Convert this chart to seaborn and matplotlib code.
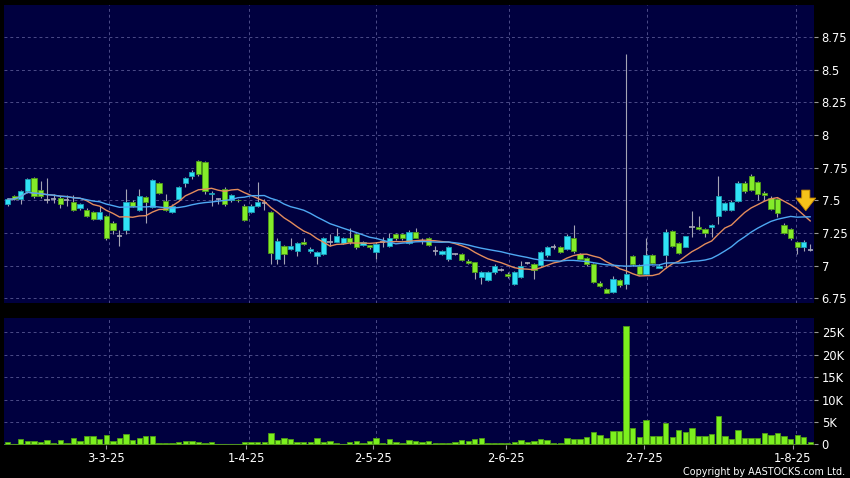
import numpy as np
import pandas as pd
import matplotlib
matplotlib.use("Agg")
import matplotlib.pyplot as plt
import seaborn as sns
from matplotlib.ticker import FixedLocator, FuncFormatter

# ---------------- data ----------------
opens = [7.47, 7.53, 7.51, 7.57, 7.67, 7.58, 7.50, 7.51, 7.52, 7.50,
         7.49, 7.44, 7.43, 7.41, 7.36, 7.38, 7.33, 7.23, 7.27, 7.49,
         7.43, 7.525, 7.45, 7.635, 7.495, 7.41, 7.51, 7.63, 7.69, 7.80,
         7.79, 7.55, 7.51, 7.59, 7.50, 7.505, 7.46, 7.41, 7.46, 7.48,
         7.41, 7.055, 7.15, 7.125, 7.11, 7.185, 7.11, 7.075, 7.09, 7.18,
         7.185, 7.175, 7.21, 7.245, 7.16, 7.155, 7.105, 7.18, 7.15, 7.245,
         7.245, 7.175, 7.26, 7.19, 7.21, 7.11, 7.09, 7.05, 7.09, 7.09,
         7.04, 7.025, 6.915, 6.89, 6.95, 6.97, 6.94, 6.86, 6.915, 7.02,
         7.01, 7.005, 7.08, 7.14, 7.145, 7.13, 7.21, 7.09, 7.06, 7.01,
         6.87, 6.825, 6.80, 6.89, 6.86, 7.075, 7.0, 6.94, 7.08, 6.985,
         7.08, 7.265, 7.175, 7.145, 7.30, 7.30, 7.285, 7.30, 7.38, 7.43,
         7.43, 7.495, 7.635, 7.69, 7.64, 7.56, 7.52, 7.51, 7.315, 7.28,
         7.185, 7.145, 7.12]
closes = [7.51, 7.51, 7.57, 7.66, 7.53, 7.53, 7.50, 7.51, 7.47, 7.50,
          7.43, 7.47, 7.38, 7.36, 7.41, 7.21, 7.27, 7.23, 7.49, 7.46,
          7.53, 7.49, 7.655, 7.56, 7.43, 7.46, 7.60, 7.67, 7.72, 7.70,
          7.57, 7.56, 7.51, 7.47, 7.54, 7.50, 7.35, 7.46, 7.49, 7.48,
          7.10, 7.19, 7.09, 7.15, 7.175, 7.17, 7.13, 7.105, 7.215, 7.18,
          7.23, 7.21, 7.18, 7.14, 7.18, 7.14, 7.17, 7.18, 7.21, 7.21,
          7.21, 7.26, 7.215, 7.19, 7.155, 7.11, 7.11, 7.145, 7.09, 7.045,
          7.02, 6.95, 6.955, 6.95, 7.0, 6.97, 6.92, 6.955, 7.0, 7.02,
          6.97, 7.105, 7.14, 7.14, 7.105, 7.23, 7.11, 7.055, 7.01, 6.875,
          6.845, 6.795, 6.90, 6.85, 6.94, 7.01, 6.935, 7.08, 7.02, 7.0,
          7.26, 7.15, 7.10, 7.225, 7.30, 7.28, 7.25, 7.31, 7.53, 7.48,
          7.49, 7.635, 7.57, 7.58, 7.55, 7.54, 7.435, 7.405, 7.25, 7.21,
          7.145, 7.185, 7.12]
highs = [7.52, 7.54, 7.58, 7.67, 7.68, 7.65, 7.67, 7.55, 7.53, 7.54,
         7.54, 7.48, 7.44, 7.42, 7.46, 7.39, 7.34, 7.27, 7.59, 7.50,
         7.59, 7.53, 7.66, 7.64, 7.55, 7.47, 7.61, 7.68, 7.73, 7.81,
         7.80, 7.57, 7.52, 7.60, 7.55, 7.51, 7.47, 7.47, 7.64, 7.51,
         7.42, 7.21, 7.16, 7.21, 7.18, 7.21, 7.14, 7.11, 7.22, 7.24,
         7.29, 7.22, 7.29, 7.25, 7.19, 7.16, 7.18, 7.22, 7.25, 7.25,
         7.25, 7.27, 7.29, 7.21, 7.22, 7.15, 7.12, 7.15, 7.10, 7.10,
         7.05, 7.03, 6.96, 6.96, 7.01, 6.98, 6.95, 6.96, 7.04, 7.03,
         7.02, 7.11, 7.15, 7.17, 7.15, 7.24, 7.31, 7.10, 7.07, 7.02,
         6.88, 6.83, 6.92, 6.90, 8.62, 7.08, 7.01, 7.21, 7.09, 7.01,
         7.28, 7.27, 7.18, 7.23, 7.42, 7.38, 7.29, 7.32, 7.69, 7.49,
         7.50, 7.65, 7.65, 7.70, 7.65, 7.57, 7.53, 7.52, 7.33, 7.29,
         7.19, 7.20, 7.17]
lows = [7.46, 7.50, 7.47, 7.56, 7.52, 7.52, 7.48, 7.48, 7.44, 7.46,
        7.42, 7.43, 7.37, 7.35, 7.35, 7.20, 7.24, 7.15, 7.24, 7.45,
        7.42, 7.33, 7.44, 7.55, 7.42, 7.40, 7.50, 7.60, 7.66, 7.69,
        7.55, 7.46, 7.47, 7.46, 7.49, 7.49, 7.34, 7.40, 7.45, 7.43,
        7.01, 7.01, 7.01, 7.12, 7.075, 7.16, 7.10, 7.01, 7.08, 7.15,
        7.18, 7.17, 7.17, 7.13, 7.15, 7.13, 7.05, 7.14, 7.14, 7.20,
        7.20, 7.17, 7.21, 7.17, 7.15, 7.08, 7.08, 7.04, 7.08, 7.04,
        7.01, 6.90, 6.86, 6.88, 6.94, 6.96, 6.91, 6.85, 6.91, 7.01,
        6.90, 7.0, 7.07, 7.13, 7.10, 7.12, 7.10, 7.05, 7.00, 6.87,
        6.84, 6.79, 6.79, 6.84, 6.82, 7.0, 6.93, 6.93, 7.01, 6.98,
        6.98, 7.14, 7.09, 7.14, 7.22, 7.27, 7.22, 7.22, 7.32, 7.42,
        7.42, 7.49, 7.56, 7.57, 7.50, 7.50, 7.43, 7.37, 7.24, 7.20,
        7.09, 7.11, 7.11]
volumes_k = [0.5, 0.15, 1.3, 0.7, 0.75, 0.5, 1.0, 0.2, 1.0, 0.4,
             1.5, 0.7, 1.9, 1.8, 1.1, 2.1, 0.75, 1.4, 2.25, 1.0,
             1.4, 1.95, 1.8, 0.3, 0.3, 0.3, 0.6, 0.75, 0.7, 0.45,
             0.3, 0.45, 0.1, 0.15, 0.15, 0.15, 0.6, 0.45, 0.45, 0.45,
             2.5, 0.9, 1.4, 1.3, 0.5, 0.5, 0.5, 1.4, 0.5, 0.75,
             0.2, 0.15, 0.45, 0.75, 0.2, 0.75, 1.5, 0.4, 1.1, 0.6,
             0.4, 0.9, 0.7, 0.5, 0.75, 0.4, 0.4, 0.4, 0.5, 1.05,
             0.75, 1.2, 1.4, 0.4, 0.4, 0.3, 0.3, 0.5, 1.05, 0.5,
             0.75, 1.1, 1.0, 0.2, 0.3, 1.35, 1.3, 1.2, 1.6, 2.85,
             2.1, 1.5, 3.0, 3.0, 26.5, 3.75, 1.6, 5.4, 1.8, 1.8,
             4.7, 1.7, 3.15, 2.85, 3.6, 1.8, 1.95, 2.4, 6.3, 1.8,
             1.2, 3.15, 1.35, 1.5, 1.5, 2.5, 2.0, 2.5, 1.8, 1.2,
             2.0, 1.65, 0.45]
date_labels = ["3-3-25", "1-4-25", "2-5-25", "2-6-25", "2-7-25", "1-8-25"]
date_pos = [15.0, 36.3, 55.5, 75.7, 96.7, 119.3]
price_ticks = [6.75, 7.0, 7.25, 7.5, 7.75, 8.0, 8.25, 8.5, 8.75]
vol_ticks_k = [0, 5, 10, 15, 20, 25]

# ---------------- styling ----------------
BG = "#00003f"
GRID = "#4c4c88"
UP_FACE, UP_EDGE = "#30e2f6", "#1b9fb4"
DN_FACE, DN_EDGE = "#84ec2a", "#4f9a18"
DOJI = "#a8a8b8"
WICK = "#a4a4b4"

sns.set_style("dark", rc={"axes.facecolor": BG, "figure.facecolor": "black"})
plt.rcParams["font.family"] = ["DejaVu Sans"]

df = pd.DataFrame({"idx": np.arange(len(closes)), "open": opens, "high": highs,
                   "low": lows, "close": closes, "vol": volumes_k})
df["ma10"] = df["close"].rolling(10, min_periods=1).mean()
df["ma20"] = df["close"].rolling(20, min_periods=1).mean()

fig = plt.figure(figsize=(8.5, 4.78), dpi=100, facecolor="black")
ax = fig.add_axes([4 / 850, 1 - 303 / 478, 810 / 850, 298 / 478])
axv = fig.add_axes([4 / 850, 1 - 445 / 478, 810 / 850, 127 / 478])

xlim = (-0.55, 122.55)

# grid lines (dashed)
for a in (ax, axv):
    a.set_facecolor(BG)
    for s in a.spines.values():
        s.set_visible(False)
    a.grid(False)
    for p in date_pos:
        a.axvline(p + 0.45, color=GRID, lw=0.7, ls=(0, (3, 3)), zorder=0)
for t in price_ticks:
    ax.axhline(t, color=GRID, lw=0.7, ls=(0, (3, 3)), zorder=0)
for t in vol_ticks_k[1:]:
    axv.axhline(t, color=GRID, lw=0.7, ls=(0, (3, 3)), zorder=0)

# candlesticks
up = df["close"] > df["open"]
dn = df["close"] < df["open"]
dj = df["close"] == df["open"]
ax.vlines(df["idx"], df["low"], df["high"], color=WICK, lw=0.8, zorder=2)
body_lo = np.minimum(df["open"], df["close"])
body_h = (df["close"] - df["open"]).abs()
ax.bar(df["idx"][up], body_h[up], bottom=body_lo[up], width=0.8,
       color=UP_FACE, edgecolor=UP_EDGE, linewidth=0.6, zorder=3)
ax.bar(df["idx"][dn], body_h[dn], bottom=body_lo[dn], width=0.8,
       color=DN_FACE, edgecolor=DN_EDGE, linewidth=0.6, zorder=3)
ax.hlines(df["close"][dj], df["idx"][dj] - 0.4, df["idx"][dj] + 0.4,
          color=DOJI, lw=1.2, zorder=3)

# moving averages
sns.lineplot(data=df, x="idx", y="ma10", ax=ax, color="#e38c5c", lw=1.0,
             legend=False, zorder=4)
sns.lineplot(data=df, x="idx", y="ma20", ax=ax, color="#4ea8f2", lw=1.0,
             legend=False, zorder=4)

# yellow arrow
ax.annotate("", xy=(121.3, 7.40), xytext=(121.3, 7.60),
            arrowprops=dict(arrowstyle="simple,head_width=1.1,head_length=0.7,tail_width=0.45",
                            fc="#f6c21a", ec="#c98a00", lw=0.6, mutation_scale=13),
            zorder=6)

ax.set_xlim(*xlim)
ax.set_ylim(6.715, 8.995)
ax.yaxis.tick_right()
ax.yaxis.set_major_locator(FixedLocator(price_ticks))
ax.yaxis.set_major_formatter(FuncFormatter(lambda v, p: f"{v:g}"))
ax.set_xticks([])
ax.set_xlabel("")
ax.set_ylabel("")
ax.tick_params(axis="y", colors="#9a9a9a", labelcolor="white", length=3,
               width=0.8, pad=2.5, labelsize=8.3, right=True, left=False)

# volume
axv.bar(df["idx"], df["vol"], width=0.82, color="#7cf01e", edgecolor="#4e9c14",
        linewidth=0.6, zorder=3)
axv.axhline(0, color="#5a7a40", lw=0.8, zorder=2)
axv.set_xlim(*xlim)
axv.set_ylim(-0.15, 28.2)
axv.yaxis.tick_right()
axv.yaxis.set_major_locator(FixedLocator(vol_ticks_k))
axv.yaxis.set_major_formatter(FuncFormatter(lambda v, p: "0" if v == 0 else f"{v:g}K"))
axv.xaxis.set_major_locator(FixedLocator(date_pos))
axv.set_xticklabels(date_labels)
axv.set_xlabel("")
axv.set_ylabel("")
axv.tick_params(axis="y", colors="#9a9a9a", labelcolor="white", length=3,
                width=0.8, pad=2.5, labelsize=8.3, right=True, left=False)
axv.tick_params(axis="x", colors="#9a9a9a", labelcolor="white", length=3,
                width=0.8, pad=2, labelsize=8.3, bottom=True)

fig.text(845 / 850, 1 - 472 / 478, "Copyright by AASTOCKS.com Ltd.", color="white",
         fontsize=6.9, ha="right", va="center")

fig.savefig("out.png", dpi=100, facecolor="black")
